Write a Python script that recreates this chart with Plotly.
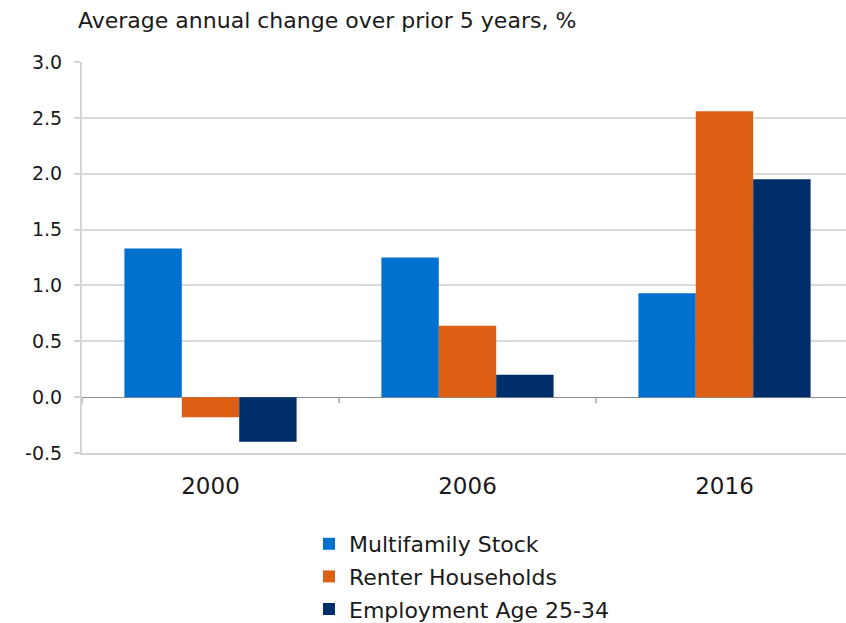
import plotly.graph_objects as go

# Average annual change over the prior five years, by period end
years = ["2000", "2006", "2016"]
multifamily_stock = [1.33, 1.25, 0.93]
renter_households = [-0.18, 0.64, 2.56]
employment_25_34 = [-0.40, 0.20, 1.95]

series_names = ["Multifamily Stock", "Renter Households", "Employment Age 25-34"]
series_colors = ["#0071CE", "#DD5F14", "#002E6B"]
y_ticks = [-0.5, 0.0, 0.5, 1.0, 1.5, 2.0, 2.5, 3.0]
y_tick_text = [f"{v:.1f}" for v in y_ticks]

FONT = "DejaVu Sans"
TEXT = "#1a1a1a"

fig = go.Figure()
for name, vals, color in zip(series_names,
                             [multifamily_stock, renter_households, employment_25_34],
                             series_colors):
    fig.add_trace(go.Bar(
        x=years, y=vals, name=name, legendgroup=name,
        marker=dict(color=color, line=dict(width=0)),
    ))

# small tick marks on the zero line between year groups
for i in range(len(years)):
    fig.add_shape(
        type="line", xref="x", yref="y", x0=i - 0.5, x1=i - 0.5,
        ysizemode="pixel", yanchor=0, y0=0, y1=-6,
        line=dict(color="#a6a6a6", width=1.5),
    )

fig.update_layout(
    width=846, height=623,
    margin=dict(l=82, r=0, t=62, b=170, autoexpand=False),
    paper_bgcolor="white", plot_bgcolor="white",
    barmode="group", bargap=0.33, bargroupgap=0,
    font=dict(family=FONT, color=TEXT),
    title=dict(
        text="Average annual change over prior 5 years, %",
        font=dict(family=FONT, size=22, color=TEXT),
        xref="container", yref="container",
        x=78 / 846, xanchor="left", y=1 - 20 / 623, yanchor="middle",
    ),
    xaxis=dict(
        type="category",
        range=[-0.5, -0.5 + 764 / 257],
        showgrid=False, ticks="",
        showline=True, linecolor="#d4d4d4", linewidth=2,
        tickfont=dict(family=FONT, size=23, color=TEXT),
        ticklabelstandoff=11,
        fixedrange=True,
    ),
    yaxis=dict(
        range=[-0.5, 3.0], tickvals=y_ticks, ticktext=y_tick_text,
        showgrid=True, gridcolor="#d9d9d9", gridwidth=1.5,
        zeroline=True, zerolinecolor="#8c8c8c", zerolinewidth=1.2,
        showline=True, linecolor="#d4d4d4", linewidth=2,
        ticks="outside", ticklen=6, tickcolor="#d4d4d4", tickwidth=1.5,
        tickfont=dict(family=FONT, size=19, color=TEXT),
        ticklabelstandoff=8,
        fixedrange=True,
    ),
    showlegend=True,
    legend=dict(
        xref="container", yref="container",
        x=309 / 846, xanchor="left", y=1 - 523 / 623, yanchor="top",
        orientation="v", tracegroupgap=1,
        font=dict(family=FONT, size=22, color=TEXT),
        bgcolor="rgba(0,0,0,0)",
    ),
)

fig.write_html("out.html")
